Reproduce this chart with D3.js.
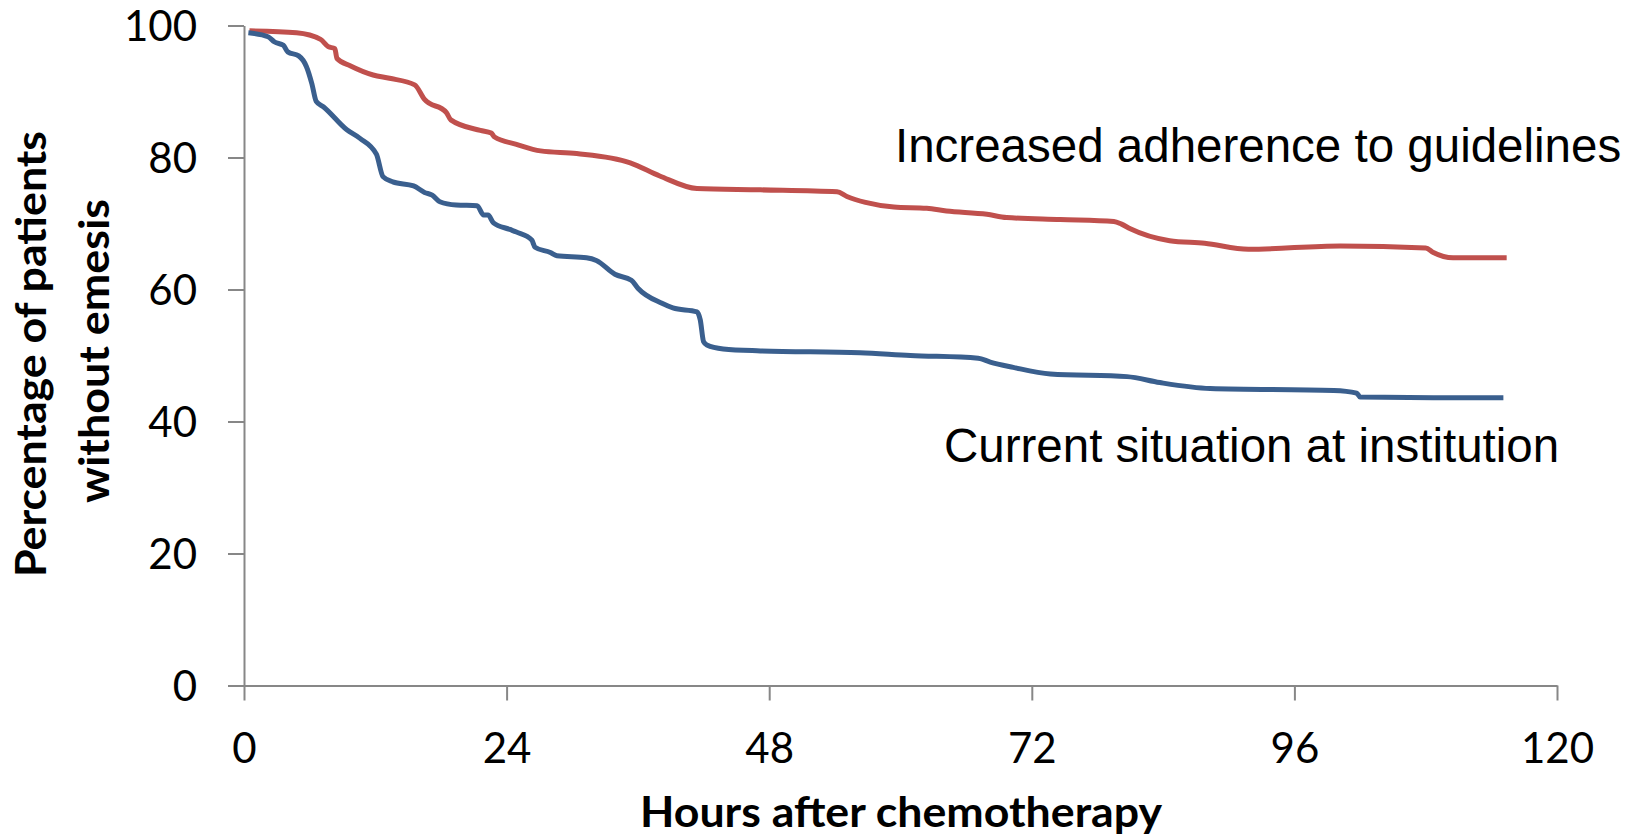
<!DOCTYPE html>
<html>
<head>
<meta charset="utf-8">
<script src="https://cdn.jsdelivr.net/npm/d3@7"></script>
<style>
  html, body { margin: 0; padding: 0; background: #fff; }
  svg { display: block; }
  .axis path, .axis line { stroke: #878787; stroke-width: 2; }
  .axis text { font-family: Lato, "Open Sans", sans-serif; font-size: 42px; fill: #000; }
</style>
</head>
<body>
<svg id="chart" width="1645" height="836"></svg>
<script>
// --- Données ---
const xTicks = [0, 24, 48, 72, 96, 120];
const yTicks = [0, 20, 40, 60, 80, 100];

// Increased adherence to guidelines (rouge)
const adherenceHours = [0.5, 4.8, 7.0, 7.7, 8.3, 8.5, 9.7, 11.8, 13.3, 15.6, 16.5, 18.5, 18.9, 21.6, 22.6, 22.9,
  24.9, 27.1, 30.4, 35.3, 38.0, 41.4, 47.2, 54.2, 55.1, 56.8, 59.4, 62.4, 64.2, 67.9, 69.7, 74.6, 79.5, 80.2,
  81.0, 84.6, 87.8, 91.8, 100.2, 108.0, 108.7, 110.5, 115.4];
const adherencePct = [99.2, 98.9, 97.9, 96.8, 96.5, 95.0, 93.9, 92.5, 92.0, 91.0, 88.8, 86.8, 85.7, 84.1, 83.7, 83.1,
  82.0, 81.0, 80.6, 79.2, 77.2, 75.3, 75.1, 74.8, 74.1, 73.2, 72.5, 72.3, 71.9, 71.4, 70.9, 70.6, 70.3, 69.9,
  69.2, 67.4, 67.0, 66.1, 66.6, 66.3, 65.6, 64.8, 64.8];

// Current situation at institution (bleu)
const currentHours = [0.4, 2.2, 2.8, 3.6, 4.0, 5.0, 5.7, 6.2, 6.6, 7.25, 9.4, 10.6, 12.1, 12.7, 13.6, 15.5, 16.5,
  17.2, 17.9, 19.4, 21.3, 21.9, 22.3, 22.8, 24.3, 24.9, 26.3, 26.6, 28.0, 28.6, 31.3, 32.2, 33.9, 35.4, 36.0,
  38.2, 39.2, 41.4, 41.7, 42.0, 42.3, 43.8, 47.2, 56.3, 60.9, 67.1, 68.2, 70.3, 73.7, 80.7, 83.7, 88.3, 99.6,
  101.7, 102.0, 108.7, 115.1];
const currentPct = [98.9, 98.3, 97.5, 97.0, 96.0, 95.4, 93.8, 91.2, 88.5, 87.7, 84.2, 82.9, 80.5, 77.1, 76.3, 75.7, 74.7,
  74.3, 73.3, 72.8, 72.7, 71.3, 71.3, 70.1, 69.1, 68.7, 67.5, 66.4, 65.6, 65.1, 64.8, 64.4, 62.3, 61.4, 60.2,
  57.9, 57.2, 56.6, 55.4, 52.1, 51.6, 51.0, 50.7, 50.4, 50.0, 49.6, 49.0, 48.2, 47.2, 46.8, 45.9, 45.0, 44.7,
  44.3, 43.7, 43.6, 43.6];

const seriesNames = ["Increased adherence to guidelines", "Current situation at institution"];

// --- Configuration D3 ---
const svg = d3.select("#chart");
const x = d3.scaleLinear().domain([0, 120]).range([244, 1557]);
const y = d3.scaleLinear().domain([0, 100]).range([685.5, 25.5]);

// Axes
svg.append("g")
    .attr("class", "axis")
    .attr("transform", `translate(${x(0)},0)`)
    .call(d3.axisLeft(y).tickValues(yTicks).tickSize(16).tickSizeOuter(0).tickPadding(31))
    .call(g => g.selectAll("text").attr("dy", "0.36em"));

svg.append("g")
    .attr("class", "axis")
    .attr("transform", `translate(0,${y(0)})`)
    .call(d3.axisBottom(x).tickValues(xTicks).tickSize(15).tickSizeOuter(0).tickPadding(33));

// Courbes
const line = d3.line()
    .x(d => x(d[0]))
    .y(d => y(d[1]))
    .curve(d3.curveMonotoneX);

const series = [
    { hours: adherenceHours, pct: adherencePct, color: "#C0504D" },
    { hours: currentHours, pct: currentPct, color: "#3A5F8E" }
];

svg.append("g").selectAll("path")
    .data(series)
    .join("path")
    .attr("d", s => line(s.hours.map((h, i) => [h, s.pct[i]])))
    .attr("fill", "none")
    .attr("stroke", s => s.color)
    .attr("stroke-width", 5)
    .attr("stroke-linejoin", "round");

// Étiquettes des séries
const labelFont = "'Liberation Sans', Arial, sans-serif";
svg.append("text")
    .attr("x", 895).attr("y", 162)
    .style("font-family", labelFont).style("font-size", "47.5px")
    .text(seriesNames[0]);
svg.append("text")
    .attr("x", 944).attr("y", 461.5)
    .style("font-family", labelFont).style("font-size", "47.5px")
    .text(seriesNames[1]);

// Titres des axes
const titleFont = "Lato, 'Open Sans', sans-serif";
svg.append("text")
    .attr("transform", "translate(901,827)")
    .attr("text-anchor", "middle")
    .attr("textLength", 522).attr("lengthAdjust", "spacingAndGlyphs")
    .style("font-family", titleFont).style("font-weight", "bold").style("font-size", "42px")
    .text("Hours after chemotherapy");

svg.append("text")
    .attr("transform", "translate(46,354) rotate(-90)")
    .attr("text-anchor", "middle")
    .attr("textLength", 446).attr("lengthAdjust", "spacingAndGlyphs")
    .style("font-family", titleFont).style("font-weight", "bold").style("font-size", "42px")
    .text("Percentage of patients");
svg.append("text")
    .attr("transform", "translate(109,351) rotate(-90)")
    .attr("text-anchor", "middle")
    .attr("textLength", 304).attr("lengthAdjust", "spacingAndGlyphs")
    .style("font-family", titleFont).style("font-weight", "bold").style("font-size", "42px")
    .text("without emesis");
</script>
</body>
</html>
